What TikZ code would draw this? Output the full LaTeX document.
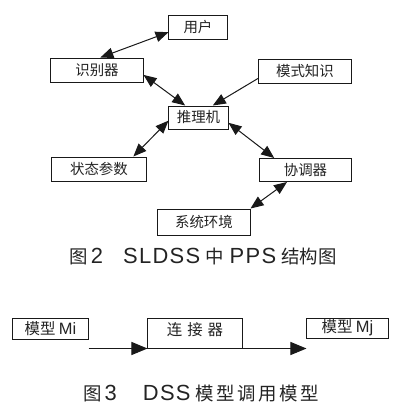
\documentclass[tikz,border=0pt]{standalone}
\usepackage{fontspec}
\setmainfont{Liberation Sans}
\newfontfamily\cjk{Noto Sans CJK SC}
\newfontfamily\latn[LetterSpace=6]{Liberation Sans}
\usetikzlibrary{positioning,arrows.meta,calc}
\definecolor{inkc}{RGB}{25,25,25}
\definecolor{textc}{RGB}{35,35,35}
\newcommand\capl[1]{{\latn\fontsize{22}{22}\selectfont #1}}

\begin{document}
\begin{tikzpicture}[x=1bp,y=-1bp,font=\cjk\fontsize{14.5}{17}\selectfont,
  box/.style={draw=inkc,line width=1bp,text=textc,inner sep=0pt,
    minimum width=92bp,minimum height=24bp},
  tip/.style={draw=inkc,line width=1bp,-{Triangle[length=16bp,width=13bp]}},
  dtip/.style={draw=inkc,line width=1bp,
    {Triangle[length=13bp,width=10.5bp]}-{Triangle[length=13bp,width=10.5bp]}},
  caption/.style={text=textc,inner sep=0pt,font=\cjk\fontsize{18.5}{22}\selectfont}]
  \useasboundingbox (0,0) rectangle (400,418);
  \node[box,minimum width=58bp] (user) at (198,27) {用户};
  \node[box] (recog) at (97,70) {识别器};
  \node[box,minimum width=93bp] (pattern) at (305,71) {模式知识};
  \node[box,minimum width=59bp,minimum height=23bp] (infer) at (198.5,117.5) {推理机};
  \node[box,minimum width=94bp] (state) at (99,169) {状态参数};
  \node[box,minimum width=91bp,minimum height=23bp] (coor) at (305.5,170) {协调器};
  \node[box,minimum height=26bp] (env) at (204,222) {系统环境};
  \draw[dtip] (user.190) -- (recog.75);
  \draw[dtip] (recog.-6) -- (infer.138);
  \draw[tip,-{Triangle[length=13bp,width=10.5bp]}] (pattern.189) -- (infer.40);
  \draw[dtip] (infer.186) -- (state.20);
  \draw[dtip] (infer.-10) -- (coor.159);
  \draw[dtip] (coor.213) -- (env.north east);
  \node[caption] (cap2) at (203,256) {图\hspace{3bp}\capl{2}\hspace{20bp}\capl{SLDSS}\hspace{5bp}中\hspace{6bp}\capl{PPS}\hspace{5bp}结构图};
  \node[box,minimum width=75bp,minimum height=21bp,font=\cjk\fontsize{15.5}{18}\selectfont] (mi) at (50.5,328.5) {模型 {\rmfamily\fontsize{16.5}{18}\selectfont Mi}};
  \node[box,minimum width=94bp,minimum height=30bp,font=\cjk\fontsize{15.5}{18}\selectfont,
    text height=12bp,text depth=8bp] (link) at (195,333) {连\hspace{5bp}接\hspace{5bp}器};
  \node[box,minimum width=81bp,minimum height=20bp,font=\cjk\fontsize{15.5}{18}\selectfont] (mj) at (347.5,328) {模型 {\rmfamily\fontsize{16.5}{18}\selectfont Mj}};
  \coordinate (mibot) at (mi.east |- link.south);
  \coordinate (mjbot) at (mj.west |- link.south);
  \draw[tip] (mibot) -- (link.south west);
  \draw[tip] (link.south east) -- (mjbot);
  \node[caption] (cap3) at (201,394) {图\hspace{3bp}\capl{3}\hspace{26bp}\capl{DSS}\hspace{5bp}模\hspace{2.5bp}型\hspace{2.5bp}调\hspace{2.5bp}用\hspace{2.5bp}模\hspace{2.5bp}型};
\end{tikzpicture}
\end{document}
